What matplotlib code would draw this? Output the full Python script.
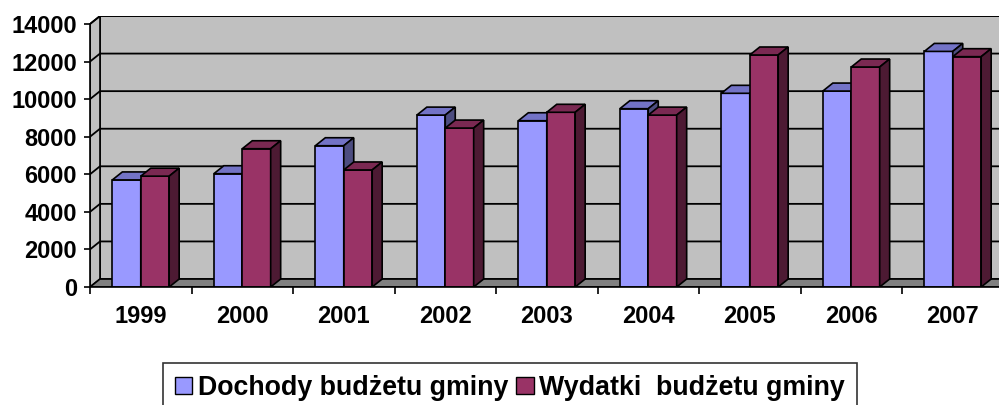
import matplotlib
matplotlib.use("Agg")
import matplotlib.pyplot as plt
from matplotlib.patches import Polygon, Patch

years = ["1999", "2000", "2001", "2002", "2003", "2004", "2005", "2006", "2007"]
dochody = [5700, 6030, 7520, 9150, 8850, 9490, 10310, 10430, 12540]
wydatki = [5900, 7360, 6230, 8460, 9300, 9150, 12350, 11710, 12260]
labels = ["Dochody budżetu gminy", "Wydatki  budżetu gminy"]
yticks = [0, 2000, 4000, 6000, 8000, 10000, 12000, 14000]

plt.rcParams["font.family"] = ["Liberation Sans", "DejaVu Sans"]
plt.rcParams["font.weight"] = "bold"

# kolory (przód, góra, bok)
c_doch = ("#9999FF", "#7373C6", "#4D4D80")
c_wyd = ("#993366", "#7A2952", "#4D1A33")

n = len(years)
dx, dy = 0.0985, 425   # głębokość 3D w jednostkach danych
ymax = yticks[-1]
bw = 0.28

fig = plt.figure(figsize=(9.99, 4.05), dpi=100)
ax = fig.add_axes([90 / 999, 118 / 405, (n + dx) * 101.5 / 999, 271 / 405])
ax.set_xlim(0, n + dx)
ax.set_ylim(0, ymax + dy)

# ściany i podłoga
ax.add_patch(Polygon([(dx, dy), (n + dx, dy), (n + dx, ymax + dy), (dx, ymax + dy)],
                     closed=True, fc="#C0C0C0", ec="black", lw=1.2, zorder=1))
ax.add_patch(Polygon([(0, 0), (dx, dy), (dx, ymax + dy), (0, ymax)],
                     closed=True, fc="#C0C0C0", ec="black", lw=1.2, zorder=1))
ax.add_patch(Polygon([(0, 0), (n, 0), (n + dx, dy), (dx, dy)],
                     closed=True, fc="#808080", ec="black", lw=1.2, zorder=2))
for v in yticks[1:]:
    ax.plot([0, dx, n + dx], [v, v + dy, v + dy], color="black", lw=1.3, zorder=2)


def bar3d(x0, v, colors):
    x1 = x0 + bw
    ax.add_patch(Polygon([(x0, 0), (x1, 0), (x1, v), (x0, v)], closed=True,
                         fc=colors[0], ec="black", lw=1.2, zorder=3))
    ax.add_patch(Polygon([(x0, v), (x1, v), (x1 + dx, v + dy), (x0 + dx, v + dy)], closed=True,
                         fc=colors[1], ec="black", lw=1.2, zorder=3))
    ax.add_patch(Polygon([(x1, 0), (x1 + dx, dy), (x1 + dx, v + dy), (x1, v)], closed=True,
                         fc=colors[2], ec="black", lw=1.2, zorder=3))


for i in range(n):
    bar3d(i + 0.5 - bw, dochody[i], c_doch)
    bar3d(i + 0.5, wydatki[i], c_wyd)

# osie
for s in ["top", "right", "bottom"]:
    ax.spines[s].set_visible(False)
ax.spines["left"].set_bounds(0, ymax)
ax.spines["left"].set_linewidth(1.2)
ax.set_yticks(yticks)
ax.set_yticklabels([str(t) for t in yticks], fontsize=17, fontweight="bold")
ax.tick_params(axis="y", length=4, width=1.2, pad=5.5)
ax.set_xticks(range(n + 1))
ax.set_xticklabels([])
ax.set_xticks([i + 0.5 for i in range(n)], minor=True)
ax.set_xticklabels(years, minor=True, fontsize=17, fontweight="bold")
ax.tick_params(axis="x", which="major", length=5, width=1.2)
ax.tick_params(axis="x", which="minor", length=0, pad=13)
ax.plot([0, n], [0, 0], color="black", lw=1.2, clip_on=False, zorder=4)

handles = [Patch(fc=c_doch[0], ec="black", lw=1), Patch(fc=c_wyd[0], ec="black", lw=1)]
leg = fig.legend(handles, labels, loc="upper left", bbox_to_anchor=(163 / 999, 1 - 363 / 405),
                 ncol=2, fontsize=19.3, frameon=True, fancybox=False, edgecolor="black",
                 handlelength=0.65, handleheight=0.6, handletextpad=0.2, columnspacing=0.3,
                 borderpad=0.45, borderaxespad=0)
leg.get_frame().set_linewidth(1.2)
for t in leg.get_texts():
    t.set_fontweight("bold")

fig.savefig("out.png", dpi=100)
